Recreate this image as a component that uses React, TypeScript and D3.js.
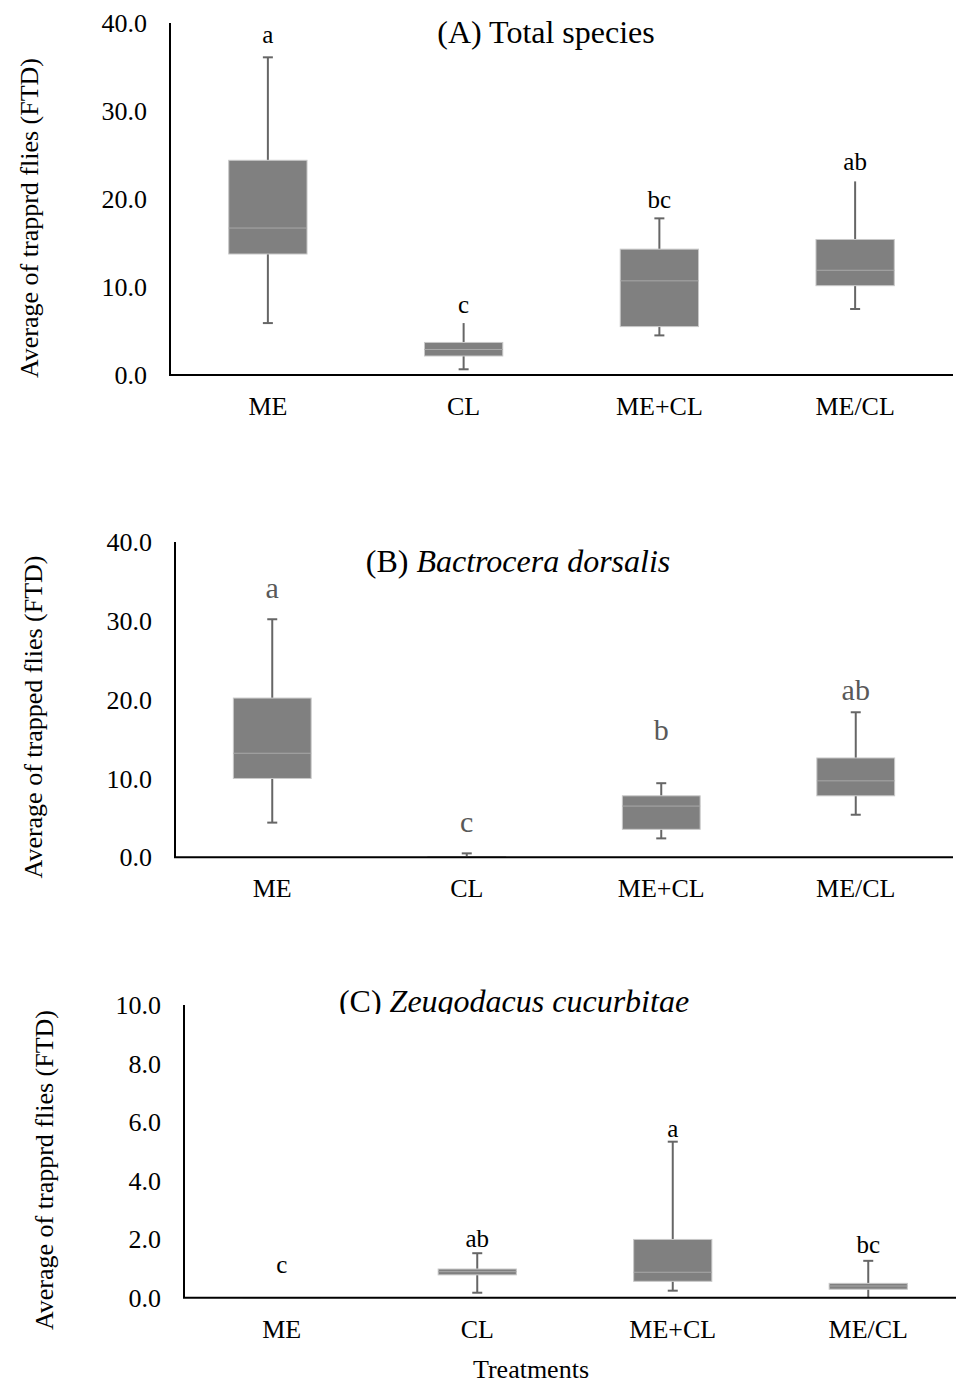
import React from "react";
import * as d3 from "d3";

const categories = ["ME", "CL", "ME+CL", "ME/CL"];

// (A) Total species
const totalMin = [5.9, 0.65, 4.5, 7.5];
const totalQ1 = [13.75, 2.16, 5.5, 10.15];
const totalMedian = [16.7, 2.9, 10.7, 11.9];
const totalQ3 = [24.4, 3.7, 14.3, 15.4];
const totalMax = [36.1, 5.9, 17.8, 22.0];
const totalLetters = ["a", "c", "bc", "ab"];
const totalLetterY = [37.7, 7.0, 19.0, 23.3];
const totalTopCap = [true, false, true, false];
const totalTicks = [0, 10, 20, 30, 40];

// (B) Bactrocera dorsalis
const dorsalisMin = [4.4, 0, 2.4, 5.4];
const dorsalisQ1 = [10.0, 0, 3.55, 7.8];
const dorsalisMedian = [13.2, 0, 6.5, 9.7];
const dorsalisQ3 = [20.2, 0.1, 7.8, 12.6];
const dorsalisMax = [30.2, 0.5, 9.4, 18.4];
const dorsalisLetters = ["a", "c", "b", "ab"];
const dorsalisLetterY = [32.9, 3.2, 14.9, 20.0];
const dorsalisTopCap = [true, true, true, true];
const dorsalisTicks = [0, 10, 20, 30, 40];

// (C) Zeugodacus cucurbitae
const cucurbitaeMin = [0, 0.17, 0.24, 0];
const cucurbitaeQ1 = [0, 0.78, 0.56, 0.29];
const cucurbitaeMedian = [0, 0.89, 0.87, 0.4];
const cucurbitaeQ3 = [0, 0.98, 1.99, 0.49];
const cucurbitaeMax = [0, 1.52, 5.33, 1.26];
const cucurbitaeLetters = ["c", "ab", "a", "bc"];
const cucurbitaeLetterY = [0.83, 1.73, 5.49, 1.52];
const cucurbitaeTopCap = [false, true, true, true];
const cucurbitaeTicks = [0, 2, 4, 6, 8, 10];

const FONT = "'Liberation Serif', 'Times New Roman', Times, serif";
const fmt = d3.format(".1f");

type PanelProps = {
  left: number;
  right: number;
  top: number;
  bottom: number;
  yMax: number;
  ticks: number[];
  mins: number[];
  q1s: number[];
  medians: number[];
  q3s: number[];
  maxs: number[];
  letters: string[];
  letterY: number[];
  topCap: boolean[];
  letterSize: number;
  letterColor: string;
  yLabel: string;
  yLabelX: number;
  yLabelY: number;
  titleX: number;
  titleY: number;
  titlePrefix: string;
  titleItalic?: string;
  titleClip?: number;
  id: string;
};

function Panel(p: PanelProps) {
  const x = d3.scaleBand<string>().domain(categories).range([p.left, p.right]);
  const y = d3.scaleLinear().domain([0, p.yMax]).range([p.bottom, p.top]);
  const bw = x.bandwidth() * 0.4;
  const cap = 10;
  return (
    <g>
      {p.titleClip !== undefined && (
        <defs>
          <clipPath id={`clip-${p.id}`}>
            <rect x={0} y={0} width={956} height={p.titleClip} />
          </clipPath>
        </defs>
      )}
      <text
        x={p.titleX}
        y={p.titleY}
        textAnchor="middle"
        fontSize={32}
        fill="#000"
        clipPath={p.titleClip !== undefined ? `url(#clip-${p.id})` : undefined}
      >
        {p.titlePrefix}
        {p.titleItalic && <tspan fontStyle="italic">{p.titleItalic}</tspan>}
      </text>
      {p.ticks.map((t) => (
        <text key={t} x={p.left - 23} y={y(t)} dy="0.35em" textAnchor="end" fontSize={26} fill="#000">
          {fmt(t)}
        </text>
      ))}
      {categories.map((c, i) => {
        const cx = (x(c) as number) + x.bandwidth() / 2;
        const yQ1 = y(p.q1s[i]);
        const yQ3 = y(p.q3s[i]);
        return (
          <g key={c}>
            <line x1={cx} x2={cx} y1={y(p.maxs[i])} y2={yQ3} stroke="#666" strokeWidth={2} />
            <line x1={cx} x2={cx} y1={yQ1} y2={y(p.mins[i])} stroke="#666" strokeWidth={2} />
            {p.topCap[i] && (
              <line x1={cx - cap / 2} x2={cx + cap / 2} y1={y(p.maxs[i])} y2={y(p.maxs[i])} stroke="#666" strokeWidth={2} />
            )}
            {p.mins[i] > 0 && (
              <line x1={cx - cap / 2} x2={cx + cap / 2} y1={y(p.mins[i])} y2={y(p.mins[i])} stroke="#666" strokeWidth={2} />
            )}
            <rect
              x={cx - bw / 2}
              y={yQ3}
              width={bw}
              height={Math.max(0, yQ1 - yQ3)}
              fill="#808080"
              stroke="#c8c8c8"
              strokeWidth={1}
            />
            <line x1={cx - bw / 2} x2={cx + bw / 2} y1={y(p.medians[i])} y2={y(p.medians[i])} stroke="#a8a8a8" strokeWidth={1} />
            <text x={cx} y={y(p.letterY[i])} textAnchor="middle" fontSize={p.letterSize} fill={p.letterColor}>
              {p.letters[i]}
            </text>
            <text x={cx} y={p.bottom + 40} textAnchor="middle" fontSize={26} fill="#000">
              {c}
            </text>
          </g>
        );
      })}
      <line x1={p.left} x2={p.left} y1={p.top} y2={p.bottom} stroke="#000" strokeWidth={2} />
      <line x1={p.left - 1} x2={p.right} y1={p.bottom} y2={p.bottom} stroke="#000" strokeWidth={2} />
      <text
        transform={`translate(${p.yLabelX},${p.yLabelY}) rotate(-90)`}
        textAnchor="middle"
        fontSize={26}
        fill="#000"
      >
        {p.yLabel}
      </text>
    </g>
  );
}

export default function App() {
  return (
    <svg
      width={956}
      height={1384}
      style={{ position: "absolute", left: 0, top: 0, background: "#fff" }}
      fontFamily={FONT}
    >
      <rect x={0} y={0} width={956} height={1384} fill="#fff" />
      <Panel
        id="a"
        left={170}
        right={953}
        top={23}
        bottom={375}
        yMax={40}
        ticks={totalTicks}
        mins={totalMin}
        q1s={totalQ1}
        medians={totalMedian}
        q3s={totalQ3}
        maxs={totalMax}
        letters={totalLetters}
        letterY={totalLetterY}
        topCap={totalTopCap}
        letterSize={25}
        letterColor="#000"
        yLabel="Average of trapprd flies (FTD)"
        yLabelX={38}
        yLabelY={218}
        titleX={546}
        titleY={43}
        titlePrefix="(A) Total species"
      />
      <Panel
        id="b"
        left={175}
        right={953}
        top={542}
        bottom={857.3}
        yMax={40}
        ticks={dorsalisTicks}
        mins={dorsalisMin}
        q1s={dorsalisQ1}
        medians={dorsalisMedian}
        q3s={dorsalisQ3}
        maxs={dorsalisMax}
        letters={dorsalisLetters}
        letterY={dorsalisLetterY}
        topCap={dorsalisTopCap}
        letterSize={30}
        letterColor="#595959"
        yLabel="Average of trapped flies (FTD)"
        yLabelX={42}
        yLabelY={717}
        titleX={518}
        titleY={572}
        titlePrefix="(B) "
        titleItalic="Bactrocera dorsalis"
      />
      <Panel
        id="c"
        left={184}
        right={966}
        top={1005}
        bottom={1297.7}
        yMax={10}
        ticks={cucurbitaeTicks}
        mins={cucurbitaeMin}
        q1s={cucurbitaeQ1}
        medians={cucurbitaeMedian}
        q3s={cucurbitaeQ3}
        maxs={cucurbitaeMax}
        letters={cucurbitaeLetters}
        letterY={cucurbitaeLetterY}
        topCap={cucurbitaeTopCap}
        letterSize={25}
        letterColor="#000"
        yLabel="Average of trapprd flies (FTD)"
        yLabelX={53}
        yLabelY={1170}
        titleX={514}
        titleY={1012}
        titlePrefix="(C) "
        titleItalic="Zeugodacus cucurbitae"
        titleClip={1014}
      />
      <text x={531} y={1378} textAnchor="middle" fontSize={26} fill="#000">
        Treatments
      </text>
    </svg>
  );
}
